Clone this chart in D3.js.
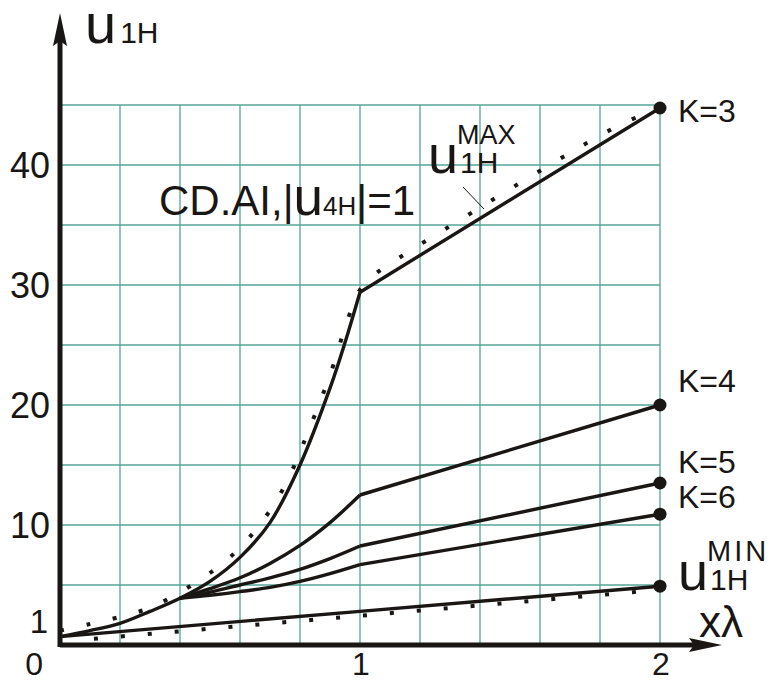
<!DOCTYPE html>
<html>
<head>
<meta charset="utf-8">
<script src="https://cdn.jsdelivr.net/npm/d3@7"></script>
<style>
  body { margin: 0; background: #fff; }
  text { font-family: "Liberation Sans", Arial, sans-serif; fill: #1a1614; }
</style>
</head>
<body>
<div class="chart"></div>
<script>
// values
const xTicks = [1, 2]
const yTicks = [1, 10, 20, 30, 40]
const gridXs = [0.2, 0.4, 0.6, 0.8, 1, 1.2, 1.4, 1.6, 1.8, 2]
const gridYs = [5, 10, 15, 20, 25, 30, 35, 40, 45]

// K=3 (max) : smooth part up to x=1, straight part after
const maxCurveX = [0, 0.1, 0.2, 0.3, 0.4, 0.5, 0.6, 0.7, 0.8, 0.9, 0.95, 1]
const maxCurveY = [0.7, 1.2, 1.8, 2.8, 3.9, 5.3, 7.3, 10.2, 15.0, 21.4, 25.2, 29.4]
const maxLineX = [1, 2]
const maxLineY = [29.4, 44.75]

const k4CurveX = [0.4, 0.5, 0.6, 0.7, 0.8, 0.9, 1]
const k4CurveY = [3.9, 4.7, 5.6, 6.8, 8.3, 10.2, 12.5]
const k5CurveY = [3.9, 4.4, 5.0, 5.6, 6.3, 7.2, 8.25]
const k6CurveY = [3.9, 4.15, 4.45, 4.8, 5.3, 5.95, 6.7]
const kLineEnd = { k4: 20, k5: 13.5, k6: 10.9 }

const minX = [0, 1, 2]
const minY = [0.7, 2.8, 4.9]

// dotted approximations
const dotMaxX = [0, 0.1, 0.2, 0.3, 0.4, 0.5, 0.6, 0.7, 0.76, 0.8, 0.9, 0.96, 1, 1.05, 1.12, 1.28, 1.84, 2]
const dotMaxY = [1.2, 1.75, 2.35, 3.1, 4.4, 6.0, 8.1, 11.2, 13.8, 16.1, 22.5, 27.2, 29.6, 30.9, 32.1, 34.6, 43.0, 44.8]
const dotMinX = [0.08, 2]
const dotMinY = [0.45, 4.6]

const endLabels = ['K=3', 'K=4', 'K=5', 'K=6']

let width = 777, height = 684
let svg = d3.select('.chart').append('svg')
  .attr('width', width)
  .attr('height', height)
svg.append('rect').attr('width', width).attr('height', height).attr('fill', '#fff')

let x = d3.scaleLinear().domain([0, 2]).range([60, 660])
let y = d3.scaleLinear().domain([0, 45]).range([645, 105])

let zip = (xs, ys) => xs.map((v, i) => [v, ys[i]])
let smooth = d3.line().x(d => x(d[0])).y(d => y(d[1])).curve(d3.curveCatmullRom.alpha(0.5))
let straight = d3.line().x(d => x(d[0])).y(d => y(d[1]))

// grid
let grid = svg.append('g').attr('stroke', '#55a597').attr('stroke-width', 1.3)
grid.selectAll('.gx').data(gridXs).enter().append('line')
  .attr('x1', d => x(d)).attr('x2', d => x(d))
  .attr('y1', y(0)).attr('y2', y(45))
grid.selectAll('.gy').data(gridYs).enter().append('line')
  .attr('x1', x(0)).attr('x2', x(2))
  .attr('y1', d => y(d)).attr('y2', d => y(d))

// curves
let curves = svg.append('g').attr('fill', 'none').attr('stroke', '#1a1614')
  .attr('stroke-width', 3.4).attr('stroke-linejoin', 'round')

curves.append('path').attr('d', smooth(zip(maxCurveX, maxCurveY)))
curves.append('path').attr('d', straight(zip(maxLineX, maxLineY)))

let kSeries = [
  { curve: k4CurveY, end: kLineEnd.k4 },
  { curve: k5CurveY, end: kLineEnd.k5 },
  { curve: k6CurveY, end: kLineEnd.k6 }
]
kSeries.forEach(s => {
  let pts = zip(k4CurveX, s.curve)
  curves.append('path').attr('d', smooth(pts))
  curves.append('path').attr('d', straight([pts[pts.length - 1], [2, s.end]]))
})
curves.append('path').attr('d', straight(zip(minX, minY)))

// dotted
let dots = svg.append('g').attr('fill', 'none').attr('stroke', '#1a1614')
  .attr('stroke-width', 4).attr('stroke-dasharray', '4 23')
dots.append('path').attr('d', smooth(zip(dotMaxX, dotMaxY)))
dots.append('path').attr('d', straight(zip(dotMinX, dotMinY))).attr('stroke-dashoffset', -10)

// end markers
let endValues = [maxLineY[1], kLineEnd.k4, kLineEnd.k5, kLineEnd.k6, minY[2]]
svg.selectAll('.end').data(endValues).enter().append('circle')
  .attr('cx', x(2)).attr('cy', d => y(d)).attr('r', 6.5).attr('fill', '#1a1614')

// end labels
let labelBase = [122, 392, 473, 508]
svg.selectAll('.klab').data(endLabels).enter().append('text')
  .attr('x', 678).attr('y', (d, i) => labelBase[i])
  .attr('font-size', 32).text(d => d)

// axes
let axes = svg.append('g').attr('stroke', '#1a1614').attr('stroke-width', 5)
axes.append('line').attr('x1', x(0)).attr('x2', 698).attr('y1', y(0)).attr('y2', y(0))
axes.append('line').attr('x1', x(0)).attr('x2', x(0)).attr('y1', y(0) + 2).attr('y2', 36)
svg.append('path').attr('fill', '#1a1614')
  .attr('d', `M${x(0)},13 L${x(0) + 7},46 L${x(0)},41 L${x(0) - 7},46 Z`)
svg.append('path').attr('fill', '#1a1614')
  .attr('d', `M722,${y(0)} L689,${y(0) - 7} L694,${y(0)} L689,${y(0) + 7} Z`)

// tick labels
svg.selectAll('.yt').data(yTicks).enter().append('text')
  .attr('x', d => d === 1 ? 48 : 50)
  .attr('y', d => d === 1 ? y(d) : y(d) + 13)
  .attr('text-anchor', 'end').attr('font-size', d => d === 1 ? 33 : 36)
  .text(d => d)
svg.append('text').attr('x', 43).attr('y', 675).attr('text-anchor', 'end')
  .attr('font-size', 32).text('0')
svg.selectAll('.xt').data(xTicks).enter().append('text')
  .attr('x', d => x(d) + 1).attr('y', 675).attr('text-anchor', 'middle')
  .attr('font-size', 32).text(d => d)

// axis titles
let yTitle = svg.append('text').attr('x', 85).attr('y', 43)
yTitle.append('tspan').attr('font-size', 56).text('u')
yTitle.append('tspan').attr('font-size', 30).attr('dx', 4).text('1H')

svg.append('text').attr('x', 699).attr('y', 637).attr('font-size', 44).text('xλ')

// annotation
let note = svg.append('text').attr('x', 159).attr('y', 215)
note.append('tspan').attr('font-size', 42).text('CD.AI,|')
note.append('tspan').attr('font-size', 53).text('u')
note.append('tspan').attr('font-size', 26).text('4H')
note.append('tspan').attr('font-size', 42).text('|=1')

// u max / u min labels, superscript kept in the same text
function uLabel (px, py, sup, supSize, spacing) {
  let t = svg.append('text').attr('x', px).attr('y', py)
  t.append('tspan').attr('font-size', 54).text('u')
  t.append('tspan').attr('font-size', 30).attr('dx', 2).text('1H')
  t.append('tspan').attr('x', px + 29).attr('dy', -29)
    .attr('font-size', supSize).attr('letter-spacing', spacing).text(sup)
}
uLabel(428, 173, 'MAX', 27, 0)
uLabel(678, 590, 'MIN', 29, 3)
svg.append('line').attr('x1', 463).attr('y1', 187).attr('x2', 484).attr('y2', 209)
  .attr('stroke', '#1a1614').attr('stroke-width', 1)
</script>
</body>
</html>
